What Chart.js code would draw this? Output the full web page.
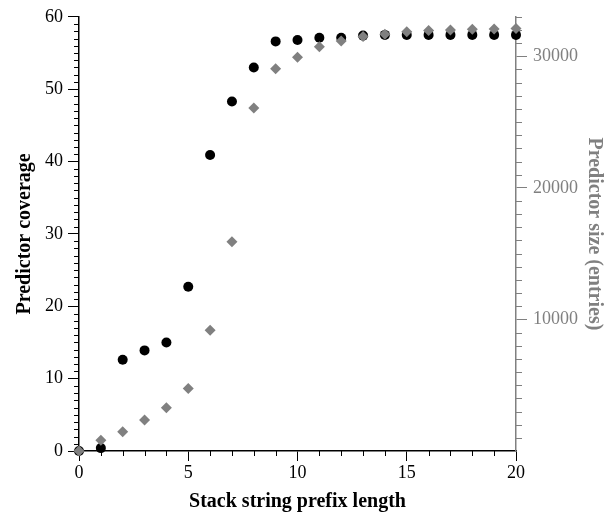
<!DOCTYPE html>
<html>
<head>
<meta charset="utf-8">
<script src="https://cdn.jsdelivr.net/npm/chart.js@4/dist/chart.umd.min.js"></script>
<style>
  body { margin: 0; background: #fff; }
</style>
</head>
<body>
<canvas id="chart" width="609" height="514"></canvas>
<script>
const prefixLength = [0, 1, 2, 3, 4, 5, 6, 7, 8, 9, 10, 11, 12, 13, 14, 15, 16, 17, 18, 19, 20];
const coverage = [0, 0.4, 12.6, 13.9, 15.0, 22.7, 40.9, 48.3, 53.0, 56.6, 56.8, 57.1, 57.1, 57.4, 57.5, 57.5, 57.5, 57.5, 57.5, 57.5, 57.5];
const predictorSize = [0, 810, 1460, 2350, 3280, 4750, 9180, 15900, 26060, 29050, 29920, 30730, 31170, 31500, 31670, 31870, 31950, 32000, 32050, 32080, 32120];
const xTicks = [0, 5, 10, 15, 20];
const leftTicks = [0, 10, 20, 30, 40, 50, 60];
const rightTicks = [10000, 20000, 30000];

const gray = "#808080";
Chart.defaults.font.family = "'Liberation Serif', 'DejaVu Serif', serif";
Chart.defaults.font.size = 18;
Chart.defaults.color = "#000";

// small ticks between the labelled ones
const minorTicks = {
    id: "minorTicks",
    afterDraw(chart) {
        const { ctx } = chart;
        const { x, y, y2 } = chart.scales;
        ctx.save();
        ctx.lineWidth = 1;
        ctx.strokeStyle = "#000";
        ctx.beginPath();
        for (let v = 1; v < 20; v++) {
            if (v % 5 === 0) continue;
            const px = Math.round(x.getPixelForValue(v)) + 0.5;
            ctx.moveTo(px, x.top);
            ctx.lineTo(px, x.top + 5);
        }
        for (let v = 1; v < 60; v++) {
            if (v % 10 === 0) continue;
            const py = Math.round(y.getPixelForValue(v)) + 0.5;
            ctx.moveTo(y.right - 5, py);
            ctx.lineTo(y.right, py);
        }
        ctx.stroke();
        ctx.strokeStyle = gray;
        ctx.beginPath();
        for (let v = 1000; v <= 33000; v += 1000) {
            if (v % 10000 === 0) continue;
            const py = Math.round(y2.getPixelForValue(v)) + 0.5;
            ctx.moveTo(y2.left, py);
            ctx.lineTo(y2.left + 6, py);
        }
        ctx.stroke();
        ctx.restore();
    }
};

new Chart(document.getElementById("chart"), {
    type: "scatter",
    data: {
        datasets: [{
            label: "Predictor size",
            data: prefixLength.map((v, i) => ({ x: v, y: predictorSize[i] })),
            yAxisID: "y2",
            pointStyle: "rectRot",
            pointRadius: 5.5,
            backgroundColor: gray,
            borderColor: gray,
            borderWidth: 0,
            clip: false,
            order: 0
        }, {
            label: "Predictor coverage",
            data: prefixLength.map((v, i) => ({ x: v, y: coverage[i] })),
            yAxisID: "y",
            pointStyle: "circle",
            pointRadius: 5,
            backgroundColor: "#000",
            borderColor: "#000",
            borderWidth: 0,
            clip: false,
            order: 1
        }]
    },
    options: {
        responsive: false,
        animation: false,
        layout: { padding: { top: 15, left: 0, right: 0, bottom: 0 } },
        plugins: {
            legend: { display: false },
            tooltip: { enabled: false }
        },
        scales: {
            x: {
                type: "linear",
                min: 0,
                max: 20,
                afterBuildTicks: s => { s.ticks = xTicks.map(v => ({ value: v })); },
                afterFit: s => { s.height = 63; },
                ticks: { padding: 1, maxRotation: 0, color: "#000" },
                grid: { drawOnChartArea: false, tickLength: 10, tickColor: "#000", tickWidth: 1 },
                border: { color: "#000", width: 1.5 },
                title: {
                    display: true,
                    text: "Stack string prefix length",
                    font: { weight: "bold", size: 20 },
                    padding: { top: 4, bottom: 0 }
                }
            },
            y: {
                type: "linear",
                position: "left",
                min: 0,
                max: 60,
                afterBuildTicks: s => { s.ticks = leftTicks.map(v => ({ value: v })); },
                afterFit: s => { s.width = 79; },
                ticks: { padding: 5, color: "#000" },
                grid: { drawOnChartArea: false, tickLength: 11, tickColor: "#000", tickWidth: 1 },
                border: { color: "#000", width: 1.5 },
                title: {
                    display: true,
                    text: "Predictor coverage",
                    font: { weight: "bold", size: 20 },
                    padding: { top: 13, bottom: 0 }
                }
            },
            y2: {
                type: "linear",
                position: "right",
                min: 0,
                max: 33000,
                afterBuildTicks: s => { s.ticks = rightTicks.map(v => ({ value: v })); },
                afterFit: s => { s.width = 93; },
                ticks: { padding: 6, color: gray, callback: v => String(v) },
                grid: { drawOnChartArea: false, tickLength: 11, tickColor: gray, tickWidth: 1 },
                border: { color: gray, width: 1.5 },
                title: {
                    display: true,
                    text: "Predictor size (entries)",
                    color: gray,
                    font: { weight: "bold", size: 20 },
                    padding: { top: 3, bottom: 0 }
                }
            }
        }
    },
    plugins: [minorTicks]
});
</script>
</body>
</html>
